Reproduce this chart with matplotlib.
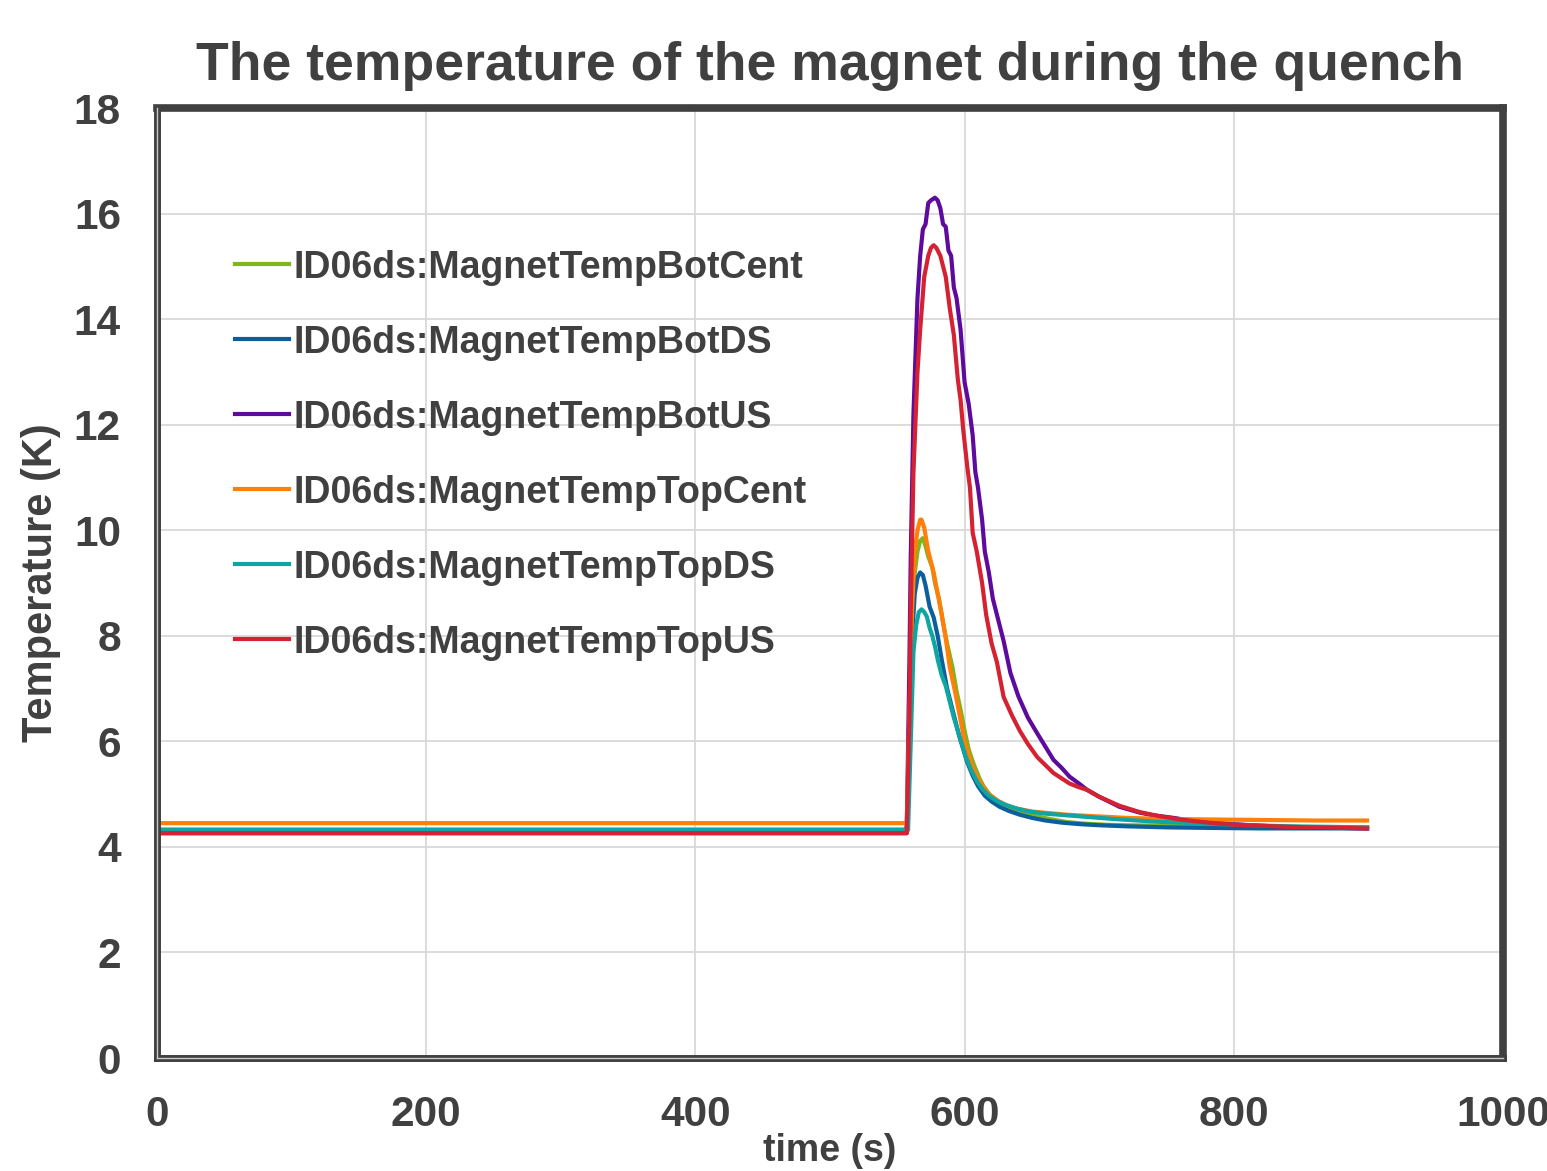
import matplotlib
matplotlib.use("Agg")
import matplotlib.pyplot as plt
from matplotlib.lines import Line2D

plt.rcParams['font.family'] = ['Liberation Sans', 'DejaVu Sans']
plt.rcParams['font.weight'] = 'bold'

# Data (time in s, temperature in K)
names = ["ID06ds:MagnetTempBotCent", "ID06ds:MagnetTempBotDS", "ID06ds:MagnetTempBotUS",
         "ID06ds:MagnetTempTopCent", "ID06ds:MagnetTempTopDS", "ID06ds:MagnetTempTopUS"]
colors = ["#7db51a", "#0d5f9b", "#5e0a9c", "#ff7f0a", "#0fa5a0", "#d42232"]

t_botcent = [0, 557, 559, 561, 563, 565, 567, 569, 571, 573, 576, 578, 581, 584, 587, 591, 594, 597, 600, 603,
             607, 611, 614, 619, 625, 632, 640, 650, 663, 676, 690, 705, 720, 750, 780, 820, 860, 899]
T_botcent = [4.33, 4.33, 6.0, 8.0, 9.2, 9.6, 9.8, 9.85, 9.7, 9.5, 9.3, 9.0, 8.7, 8.25, 7.85, 7.4, 6.95, 6.6, 6.2, 5.85,
             5.55, 5.3, 5.15, 4.98, 4.86, 4.76, 4.68, 4.6, 4.53, 4.47, 4.44, 4.42, 4.41, 4.4, 4.39, 4.38, 4.37, 4.37]

t_botds = [0, 557, 559, 561, 563, 565, 567, 569, 571, 574, 577, 580, 583, 587, 590, 593, 596, 599, 602, 606,
           610, 615, 620, 626, 633, 641, 650, 660, 672, 686, 700, 720, 750, 780, 820, 860, 899]
T_botds = [4.26, 4.26, 6.0, 8.0, 8.8, 9.1, 9.2, 9.15, 8.95, 8.55, 8.35, 8.0, 7.55, 7.0, 6.7, 6.4, 6.1, 5.85, 5.6, 5.35,
           5.15, 4.97, 4.86, 4.76, 4.68, 4.61, 4.55, 4.5, 4.46, 4.43, 4.41, 4.39, 4.37, 4.36, 4.35, 4.35, 4.35]

t_botus = [0, 557, 559, 560, 562, 565, 567, 569, 571, 573, 575, 578, 580, 582, 584, 586, 588, 590, 592, 594,
           597, 600, 603, 606, 608, 610, 613, 615, 618, 621, 625, 629, 634, 640, 647, 654, 660, 666, 672, 678,
           685, 691, 700, 715, 730, 740, 755, 765, 780, 790, 800, 820, 840, 860, 880, 899]
T_botus = [4.28, 4.28, 7.5, 9.5, 12.2, 14.4, 15.2, 15.7, 15.8, 16.2, 16.25, 16.3, 16.25, 16.1, 15.8, 15.75, 15.3, 15.2, 14.6, 14.4,
           13.8, 12.8, 12.4, 11.8, 11.1, 10.8, 10.2, 9.6, 9.2, 8.7, 8.3, 7.9, 7.3, 6.85, 6.45, 6.15, 5.9, 5.65, 5.5, 5.33,
           5.2, 5.08, 4.95, 4.76, 4.65, 4.6, 4.55, 4.51, 4.48, 4.45, 4.43, 4.4, 4.38, 4.37, 4.36, 4.35]

t_topcent = [0, 557, 559, 561, 563, 565, 567, 568, 570, 573, 575, 577, 580, 583, 586, 589, 592, 594, 597, 600,
             603, 606, 610, 614, 619, 625, 632, 640, 650, 663, 676, 690, 705, 720, 750, 780, 820, 860, 899]
T_topcent = [4.45, 4.45, 6.5, 8.5, 9.6, 10.0, 10.2, 10.2, 10.05, 9.6, 9.4, 9.2, 8.8, 8.4, 7.95, 7.4, 7.05, 6.8, 6.4, 6.0,
             5.75, 5.5, 5.3, 5.12, 4.98, 4.87, 4.78, 4.72, 4.67, 4.64, 4.61, 4.59, 4.57, 4.55, 4.53, 4.52, 4.51, 4.5, 4.5]

t_topds = [0, 558, 560, 562, 564, 566, 568, 570, 572, 574, 576, 578, 580, 583, 586, 589, 592, 595, 598, 601,
           605, 609, 613, 618, 624, 630, 638, 648, 660, 675, 690, 710, 740, 770, 800, 840, 870, 899]
T_topds = [4.32, 4.32, 6.0, 7.7, 8.2, 8.45, 8.5, 8.45, 8.36, 8.15, 8.0, 7.8, 7.55, 7.25, 7.05, 6.75, 6.45, 6.2, 5.95, 5.7,
           5.45, 5.25, 5.1, 4.97, 4.87, 4.8, 4.73, 4.67, 4.63, 4.6, 4.57, 4.53, 4.48, 4.45, 4.42, 4.39, 4.38, 4.37]

t_topus = [0, 557, 559, 560, 562, 565, 567, 570, 573, 575, 577, 579, 582, 584, 586, 589, 592, 595, 597, 599,
           602, 604, 606, 609, 613, 616, 620, 624, 629, 635, 641, 647, 654, 660, 666, 672, 678, 685, 691, 700,
           715, 730, 745, 760, 770, 785, 800, 820, 840, 860, 880, 899]
T_topus = [4.26, 4.26, 6.5, 8.5, 11.1, 13.0, 13.8, 14.8, 15.2, 15.35, 15.4, 15.35, 15.2, 15.0, 14.8, 14.2, 13.7, 12.85, 12.47, 11.9,
           11.2, 10.8, 9.95, 9.6, 9.0, 8.4, 7.86, 7.5, 6.84, 6.5, 6.2, 5.95, 5.7, 5.55, 5.4, 5.3, 5.2, 5.13, 5.08, 4.95,
           4.78, 4.66, 4.58, 4.52, 4.49, 4.45, 4.42, 4.4, 4.38, 4.37, 4.36, 4.35]

times = [t_botcent, t_botds, t_botus, t_topcent, t_topds, t_topus]
temps = [T_botcent, T_botds, T_botus, T_topcent, T_topds, T_topus]

txt = "#404040"
fig = plt.figure(figsize=(15.47, 11.71), dpi=100)
ax = fig.add_axes([157 / 1547, 1 - 1058 / 1171, (1503 - 157) / 1547, (1058 - 108) / 1171])

for t, T, c, n in zip(times, temps, colors, names):
    ax.plot(t, T, color=c, lw=3.0, label=n, solid_joinstyle='round')

ax.set_xlim(0, 1000)
ax.set_ylim(0, 18)
ax.set_xticks(range(0, 1001, 200))
ax.set_yticks(range(0, 19, 2))
ax.grid(True, color="#d9d9d9", lw=1.3)
ax.set_axisbelow(True)
ax.tick_params(length=0, labelsize=30.5, labelcolor=txt)
ax.tick_params(axis='x', pad=27)
ax.tick_params(axis='y', pad=26)

for side in ['top', 'right']:
    ax.spines[side].set_linewidth(5.5)
    ax.spines[side].set_color(txt)
for side in ['left', 'bottom']:
    ax.spines[side].set_linewidth(5)
    ax.spines[side].set_color(txt)
# light inner line of the frame
ax.add_line(Line2D([0, 0], [0, 1], transform=ax.transAxes, color="#c8c8c8", lw=1.0, clip_on=False, zorder=5))
ax.add_line(Line2D([0, 1], [0, 0], transform=ax.transAxes, color="#c8c8c8", lw=1.0, clip_on=False, zorder=5))

ax.set_title("The temperature of the magnet during the quench", fontsize=38.5, color=txt,
             fontweight='bold', pad=20)
ax.set_xlabel("time (s)", fontsize=27, color=txt, fontweight='bold')
ax.xaxis.set_label_coords(0.5, -0.079)
ax.set_ylabel("Temperature (K)", fontsize=30, color=txt, fontweight='bold', labelpad=9)

leg = ax.legend(loc='upper left', bbox_to_anchor=(0.058, 0.851), frameon=False, fontsize=27,
                handlelength=1.45, handletextpad=0.1, labelspacing=1.04, borderpad=0, borderaxespad=0)
for text in leg.get_texts():
    text.set_color(txt)

fig.savefig("out.png", dpi=100)
